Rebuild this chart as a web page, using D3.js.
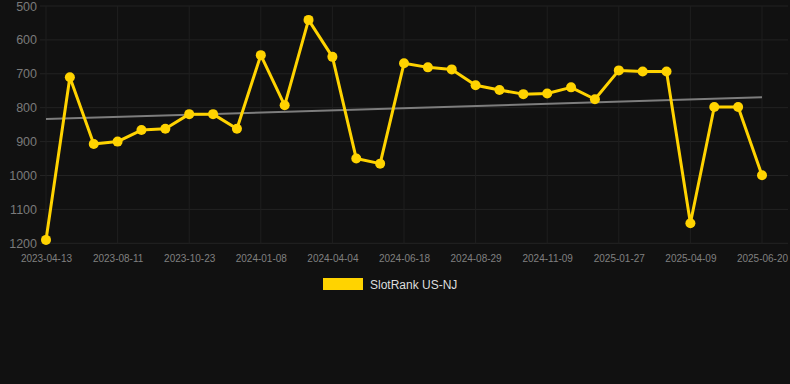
<!DOCTYPE html>
<html><head><meta charset="utf-8">
<script src="https://cdn.jsdelivr.net/npm/d3@7"></script>
<style>
html,body{margin:0;padding:0;background:#111111;}
svg{display:block;}
</style></head>
<body>
<svg id="chart" width="790" height="384"></svg>
<script>
const seriesName = "SlotRank US-NJ";
const tickLabels = ["2023-04-13","2023-08-11","2023-10-23","2024-01-08","2024-04-04","2024-06-18","2024-08-29","2024-11-09","2025-01-27","2025-04-09","2025-06-20"];
const values = [1190,710,907,900,866,862,819,819,862,645,793,541,650,950,965,669,681,687,734,748,760,758,740,775,690,693,693,1141,798,798,999];
const yTicks = [500,600,700,800,900,1000,1100,1200];

(function(){
const svg = d3.select("#chart");
const W = 790, H = 384;
const pLeft = 40, pRight = 788, pTop = 6, pBottom = 243.3;
const idx = values.map((d,i)=>i);
const x = d3.scalePoint().domain(idx).range([46, 762]);
const y = d3.scaleLinear().domain([500,1200]).range([pTop, pBottom]);

svg.append("rect").attr("width",W).attr("height",H).attr("fill","#111111");

// horizontal grid
svg.append("g").selectAll("line").data(yTicks).join("line")
  .attr("x1", pLeft).attr("x2", pRight)
  .attr("y1", d=>y(d)).attr("y2", d=>y(d))
  .attr("stroke", "#232323").attr("stroke-width",1);

// vertical grid at labelled ticks
const tickIdx = tickLabels.map((d,i)=>i*3);
svg.append("g").selectAll("line").data(tickIdx).join("line")
  .attr("x1", d=>x(d)).attr("x2", d=>x(d))
  .attr("y1", pTop).attr("y2", pBottom)
  .attr("stroke", "#1f1f1f").attr("stroke-width",1);

// y axis labels
const yAxis = d3.axisLeft(y).tickValues(yTicks).tickFormat(d3.format("d")).tickSize(0).tickPadding(0);
const gy = svg.append("g").attr("transform","translate(37,0)").call(yAxis);
gy.select(".domain").remove();
gy.selectAll("text").attr("fill","#7a7a7a").style("font-family","Liberation Sans, Arial, sans-serif").style("font-size","12.5px");

// x axis labels
const xAxis = d3.axisBottom(x).tickValues(tickIdx).tickFormat((d,i)=>tickLabels[i]).tickSize(0).tickPadding(0);
const gx = svg.append("g").attr("transform","translate(0,254.5)").call(xAxis);
gx.select(".domain").remove();
gx.selectAll("text").attr("fill","#808080").style("font-family","Liberation Sans, Arial, sans-serif").style("font-size","10px");

// trend line (linear regression)
const n = values.length;
const mx = d3.mean(idx), my = d3.mean(values);
const slope = d3.sum(idx, i => (i-mx)*(values[i]-my)) / d3.sum(idx, i => (i-mx)*(i-mx));
const intercept = my - slope*mx;
svg.append("line")
  .attr("x1", x(0)).attr("y1", y(intercept))
  .attr("x2", x(n-1)).attr("y2", y(intercept + slope*(n-1)))
  .attr("stroke","#7d7d7d").attr("stroke-width",2);

// series line
const line = d3.line().x((d,i)=>x(i)).y(d=>y(d));
svg.append("path").datum(values)
  .attr("d", line).attr("fill","none")
  .attr("stroke","#FFD300").attr("stroke-width",3).attr("stroke-linejoin","round");

svg.append("g").selectAll("circle").data(values).join("circle")
  .attr("cx",(d,i)=>x(i)).attr("cy",d=>y(d)).attr("r",5)
  .attr("fill","#FFD300");

// legend
svg.append("rect").attr("x",323).attr("y",278).attr("width",40).attr("height",12).attr("fill","#FFD300");
svg.append("text").attr("x",370).attr("y",288.5).text(seriesName)
  .attr("fill","#dddddd").style("font-family","Liberation Sans, Arial, sans-serif").style("font-size","12px");
})();
</script>
</body></html>
